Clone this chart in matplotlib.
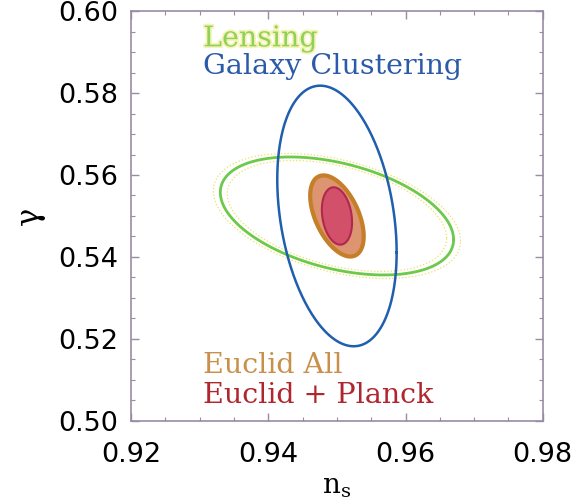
import numpy as np
import matplotlib.pyplot as plt
import matplotlib.patheffects as pe

# contours: centre, 1-sigma widths and correlation (n_s, gamma)
names = ['Lensing', 'Galaxy Clustering', 'Euclid All', 'Euclid + Planck']
cx = [0.950, 0.950, 0.950, 0.950]
cy = [0.550, 0.550, 0.550, 0.550]
sig_x = [0.0170, 0.0087, 0.0039, 0.0022]
sig_y = [0.0144, 0.0318, 0.0099, 0.0070]
rho = [-0.40, -0.28, -0.50, -0.22]

xticks = [0.92, 0.94, 0.96, 0.98]
yticks = [0.50, 0.52, 0.54, 0.56, 0.58, 0.60]

plt.rcParams['mathtext.fontset'] = 'dejavuserif'
frame = '#9b8aa3'


def ellipse(i, scale=1.0):
    cov = np.array([[sig_x[i]**2, rho[i]*sig_x[i]*sig_y[i]],
                    [rho[i]*sig_x[i]*sig_y[i], sig_y[i]**2]])
    L = np.linalg.cholesky(cov)
    t = np.linspace(0, 2*np.pi, 400)
    pts = L @ np.vstack([np.cos(t), np.sin(t)]) * scale
    return cx[i] + pts[0], cy[i] + pts[1]


fig = plt.figure(figsize=(5.75, 5.04), dpi=100)
ax = fig.add_axes([0.228, 0.165, 0.716, 0.813])

# lensing: green line with faint yellow dotted companions
x, y = ellipse(0)
ax.plot(x, y, color='#6cc94a', lw=2)
for s in (1.06, 0.94):
    x, y = ellipse(0, s)
    ax.plot(x, y, color='#eedc50', lw=0.9, ls=':', alpha=0.9)

# galaxy clustering
x, y = ellipse(1)
ax.plot(x, y, color='#1f5fad', lw=1.8)

# euclid all
x, y = ellipse(2)
ax.fill(x, y, facecolor='#dd9470', edgecolor='#c47f28', lw=3)

# euclid + planck
x, y = ellipse(3)
ax.fill(x, y, facecolor='#d2506a', edgecolor='#b0284e', lw=1.5)

tx = 0.9305
ax.text(tx, 0.5914, names[0], color='#8fd25a', fontsize=20.5, family='DejaVu Serif',
        path_effects=[pe.withStroke(linewidth=2.5, foreground='#f7f3b8')])
ax.text(tx, 0.5846, names[1], color='#2a5aa8', fontsize=20.5, family='DejaVu Serif')
ax.text(tx, 0.5117, names[2], color='#c8904a', fontsize=20.5, family='DejaVu Serif')
ax.text(tx, 0.5044, names[3], color='#b0262e', fontsize=20.5, family='DejaVu Serif')

ax.set_xlim(0.92, 0.98)
ax.set_ylim(0.50, 0.60)
ax.set_xticks(xticks)
ax.set_yticks(yticks)
ax.set_xticklabels(['%.2f' % v for v in xticks])
ax.set_yticklabels(['%.2f' % v for v in yticks])
ax.set_xticks(np.arange(0.92, 0.9801, 0.005), minor=True)
ax.set_yticks(np.arange(0.50, 0.6001, 0.005), minor=True)
ax.tick_params(which='both', direction='in', top=True, right=True, color=frame)
ax.tick_params(which='major', length=6, width=1, labelsize=19.5)
ax.tick_params(which='minor', length=3, width=0.8)
ax.tick_params(axis='x', pad=15)
ax.tick_params(axis='y', pad=9)
for sp in ax.spines.values():
    sp.set_color(frame)
    sp.set_linewidth(1.2)

ax.set_xlabel(r'$\mathrm{n_s}$', fontsize=20, labelpad=3)
ax.set_ylabel('γ', fontsize=22, family='DejaVu Serif', labelpad=10)

fig.savefig('out.png', dpi=100)
